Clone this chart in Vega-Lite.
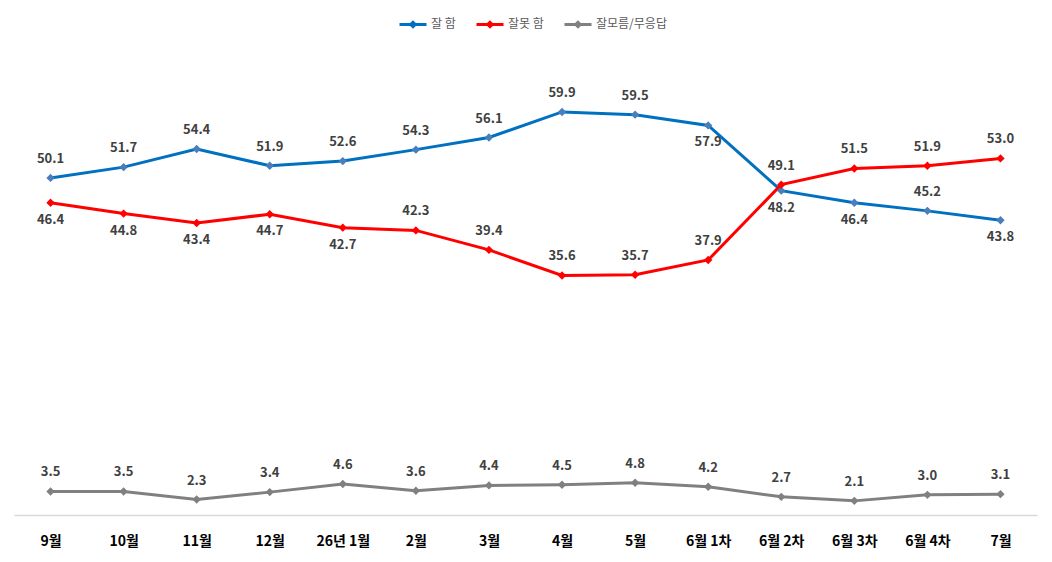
{
  "$schema": "https://vega.github.io/schema/vega-lite/v6.json",
  "width": 1023,
  "height": 471,
  "autosize": {"type": "none"},
  "padding": {"left": 14, "top": 44, "right": 15, "bottom": 47},
  "background": "white",
  "data": {
    "values": [
      {"month": "9월", "series": "잘 함", "value": 50.1},
      {"month": "10월", "series": "잘 함", "value": 51.7},
      {"month": "11월", "series": "잘 함", "value": 54.4},
      {"month": "12월", "series": "잘 함", "value": 51.9},
      {"month": "26년 1월", "series": "잘 함", "value": 52.6},
      {"month": "2월", "series": "잘 함", "value": 54.3},
      {"month": "3월", "series": "잘 함", "value": 56.1},
      {"month": "4월", "series": "잘 함", "value": 59.9},
      {"month": "5월", "series": "잘 함", "value": 59.5},
      {"month": "6월 1차", "series": "잘 함", "value": 57.9},
      {"month": "6월 2차", "series": "잘 함", "value": 48.2},
      {"month": "6월 3차", "series": "잘 함", "value": 46.4},
      {"month": "6월 4차", "series": "잘 함", "value": 45.2},
      {"month": "7월", "series": "잘 함", "value": 43.8},
      {"month": "9월", "series": "잘못 함", "value": 46.4},
      {"month": "10월", "series": "잘못 함", "value": 44.8},
      {"month": "11월", "series": "잘못 함", "value": 43.4},
      {"month": "12월", "series": "잘못 함", "value": 44.7},
      {"month": "26년 1월", "series": "잘못 함", "value": 42.7},
      {"month": "2월", "series": "잘못 함", "value": 42.3},
      {"month": "3월", "series": "잘못 함", "value": 39.4},
      {"month": "4월", "series": "잘못 함", "value": 35.6},
      {"month": "5월", "series": "잘못 함", "value": 35.7},
      {"month": "6월 1차", "series": "잘못 함", "value": 37.9},
      {"month": "6월 2차", "series": "잘못 함", "value": 49.1},
      {"month": "6월 3차", "series": "잘못 함", "value": 51.5},
      {"month": "6월 4차", "series": "잘못 함", "value": 51.9},
      {"month": "7월", "series": "잘못 함", "value": 53.0},
      {"month": "9월", "series": "잘모름/무응답", "value": 3.5},
      {"month": "10월", "series": "잘모름/무응답", "value": 3.5},
      {"month": "11월", "series": "잘모름/무응답", "value": 2.3},
      {"month": "12월", "series": "잘모름/무응답", "value": 3.4},
      {"month": "26년 1월", "series": "잘모름/무응답", "value": 4.6},
      {"month": "2월", "series": "잘모름/무응답", "value": 3.6},
      {"month": "3월", "series": "잘모름/무응답", "value": 4.4},
      {"month": "4월", "series": "잘모름/무응답", "value": 4.5},
      {"month": "5월", "series": "잘모름/무응답", "value": 4.8},
      {"month": "6월 1차", "series": "잘모름/무응답", "value": 4.2},
      {"month": "6월 2차", "series": "잘모름/무응답", "value": 2.7},
      {"month": "6월 3차", "series": "잘모름/무응답", "value": 2.1},
      {"month": "6월 4차", "series": "잘모름/무응답", "value": 3.0},
      {"month": "7월", "series": "잘모름/무응답", "value": 3.1}
    ]
  },
  "encoding": {
    "x": {
      "field": "month",
      "type": "nominal",
      "sort": ["9월", "10월", "11월", "12월", "26년 1월", "2월", "3월", "4월", "5월", "6월 1차", "6월 2차", "6월 3차", "6월 4차", "7월"],
      "scale": {"type": "point", "padding": 0.5},
      "axis": {
        "title": null,
        "labelAngle": 0,
        "labelFontSize": 14,
        "labelFontWeight": "bold",
        "labelColor": "#000000",
        "labelPadding": 19,
        "ticks": false,
        "domainColor": "#d9d9d9",
        "domainWidth": 1.5,
        "grid": false
      }
    },
    "y": {
      "field": "value",
      "type": "quantitative",
      "scale": {"domain": [0, 70]},
      "axis": null
    }
  },
  "layer": [
    {
      "mark": {"type": "line", "strokeWidth": 3},
      "encoding": {
        "color": {
          "field": "series",
          "type": "nominal",
          "scale": {
            "domain": ["잘 함", "잘못 함", "잘모름/무응답"],
            "range": ["#0070C0", "#FF0000", "#808080"]
          },
          "legend": {
            "title": null,
            "orient": "none",
            "direction": "horizontal",
            "legendX": 384,
            "legendY": -35,
            "symbolType": "M-1,0H1M-0.16,0L0,-0.16L0.16,0L0,0.16Z",
            "symbolSize": 729,
            "symbolStrokeWidth": 3,
            "labelFontSize": 12,
            "labelColor": "#595959",
            "labelOffset": 3,
            "columnPadding": 14
          }
        }
      }
    },
    {
      "mark": {"type": "point", "shape": "diamond", "filled": true, "size": 70, "opacity": 1},
      "encoding": {
        "fill": {
          "field": "series",
          "type": "nominal",
          "scale": {
            "domain": ["잘 함", "잘못 함", "잘모름/무응답"],
            "range": ["#4A7EBB", "#FF0000", "#808080"]
          },
          "legend": null
        }
      }
    },
    {
      "transform": [
        {"filter": "!((datum.series == '잘 함' && indexof(['6월 1차','6월 2차','6월 3차','7월'], datum.month) >= 0) || (datum.series == '잘못 함' && indexof(['9월','10월','11월','12월','26년 1월'], datum.month) >= 0))"}
      ],
      "mark": {"type": "text", "baseline": "bottom", "dy": -12, "fontSize": 13, "fontWeight": "bold", "color": "#404040"},
      "encoding": {
        "text": {"field": "value", "type": "quantitative", "format": ".1f"}
      }
    },
    {
      "transform": [
        {"filter": "(datum.series == '잘 함' && indexof(['6월 1차','6월 2차','6월 3차','7월'], datum.month) >= 0) || (datum.series == '잘못 함' && indexof(['9월','10월','11월','12월','26년 1월'], datum.month) >= 0)"}
      ],
      "mark": {"type": "text", "baseline": "top", "dy": 11, "fontSize": 13, "fontWeight": "bold", "color": "#404040"},
      "encoding": {
        "text": {"field": "value", "type": "quantitative", "format": ".1f"}
      }
    }
  ],
  "config": {
    "font": "Noto Sans CJK KR",
    "view": {"stroke": null}
  }
}
